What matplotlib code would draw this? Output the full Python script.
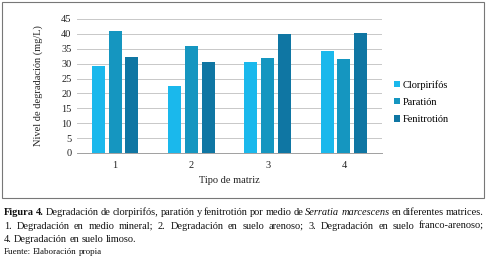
import numpy as np
import matplotlib
matplotlib.use("Agg")
import matplotlib.pyplot as plt
from matplotlib.patches import Rectangle

plt.rcParams['font.family'] = ['Liberation Serif', 'DejaVu Serif']

# data
matrices = ['1', '2', '3', '4']
series_names = ['Clorpirifós', 'Paratión', 'Fenitrotión']
clorpirifos = [29.3, 22.5, 30.6, 34.3]
paration = [41.1, 36.1, 32.0, 31.7]
fenitrotion = [32.1, 30.6, 39.8, 40.4]
colors = ['#1ab8ec', '#1596c0', '#0f76a3']

fig = plt.figure(figsize=(4.87, 2.62), dpi=100)
W, H = 487, 262

# frame around the chart
fig.patches.append(Rectangle((2 / W, 1 - 198 / H), 482 / W, 196 / H,
                             transform=fig.transFigure, fill=False,
                             edgecolor='#777777', linewidth=0.8))

ax = fig.add_axes([77 / W, 1 - 153 / H, 305 / W, 134 / H])
x = np.arange(len(matrices))
width = 0.17
step = 0.22
for k, vals in enumerate([clorpirifos, paration, fenitrotion]):
    ax.bar(x + (k - 1) * step, vals, width, color=colors[k],
           label=series_names[k], zorder=3)

ax.set_xlim(-0.5, len(matrices) - 0.5)
ax.set_ylim(0, 45)
ax.set_yticks(np.arange(0, 46, 5))
ax.set_xticks(x)
ax.set_xticklabels(matrices)
ax.grid(axis='y', color='#c8c8c8', linewidth=0.7, zorder=0)
for s in ['top', 'right', 'left']:
    ax.spines[s].set_visible(False)
ax.spines['bottom'].set_color('#a0a0a0')
ax.spines['bottom'].set_linewidth(0.7)
ax.tick_params(axis='both', length=0, labelsize=7.5, colors='#222222', pad=4)
ax.tick_params(axis='x', pad=6)
ax.set_ylabel('Nivel de degradación (mg/L)', fontsize=7.5, color='#222222', labelpad=13)
ax.set_xlabel('Tipo de matriz', fontsize=7.5, color='#222222', labelpad=4)

ax.legend(loc='center left', bbox_to_anchor=(390 / W, 1 - 102 / H),
          bbox_transform=fig.transFigure, frameon=False, fontsize=7.5,
          handlelength=0.6, handleheight=0.6, handletextpad=0.2,
          labelspacing=0.8, borderaxespad=0)

# caption, placed word by word so lines can be justified
renderer = fig.canvas.get_renderer()
left, right = 4, 484


def caption_line(y, words, size=7.5, justify=False):
    """words: list of (text, style, weight); y is the baseline in px from top"""
    texts = []
    for w, style, weight in words:
        t = fig.text(0, 1 - y / H, w, fontsize=size, style=style, weight=weight,
                     va='baseline', color='#111111')
        texts.append(t)
    widths = [t.get_window_extent(renderer).width for t in texts]
    space = size * 0.3
    if justify and len(texts) > 1:
        space = (right - left - sum(widths)) / (len(texts) - 1)
    xpos = left
    for t, wd in zip(texts, widths):
        t.set_x(xpos / W)
        xpos += wd + space


def words_of(s, style='normal', weight='normal'):
    return [(w, style, weight) for w in s.split()]


line1 = (words_of('Figura 4.', weight='bold')
         + words_of('Degradación de clorpirifós, paratión y fenitrotión por medio de')
         + words_of('Serratia marcescens', style='italic')
         + words_of('en diferentes matrices.'))
caption_line(215, line1, justify=True)
caption_line(229, words_of('1. Degradación en medio mineral; 2. Degradación en suelo '
                           'arenoso; 3. Degradación en suelo franco-arenoso;'),
             justify=True)
caption_line(242, words_of('4. Degradación en suelo limoso.'))
caption_line(254, words_of('Fuente: Elaboración propia'), size=6.5)

fig.savefig('out.png', dpi=100)
